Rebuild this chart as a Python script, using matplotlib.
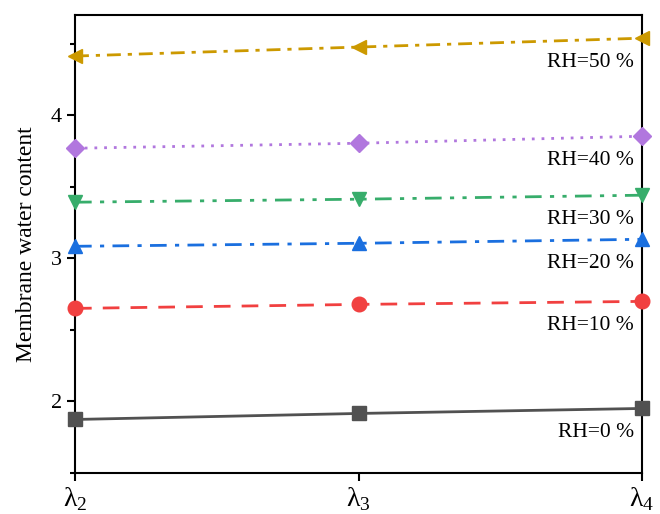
import matplotlib.pyplot as plt
from matplotlib.ticker import MultipleLocator

plt.rcParams['font.family'] = ['Liberation Serif', 'DejaVu Serif']
plt.rcParams['mathtext.fontset'] = 'custom'
plt.rcParams['mathtext.rm'] = 'Liberation Serif'

x_pos = [0, 1, 2]
x_labels = ['λ$_2$', 'λ$_3$', 'λ$_4$']

rh_labels = ['RH=0 %', 'RH=10 %', 'RH=20 %', 'RH=30 %', 'RH=40 %', 'RH=50 %']
rh0 = [1.874, 1.916, 1.951]
rh10 = [2.650, 2.678, 2.699]
rh20 = [3.084, 3.105, 3.133]
rh30 = [3.392, 3.413, 3.441]
rh40 = [3.769, 3.804, 3.853]
rh50 = [4.413, 4.476, 4.538]

series = [rh0, rh10, rh20, rh30, rh40, rh50]
colors = ['#515151', '#F14040', '#1A6FDF', '#37AD6B', '#B177DE', '#CC9900']
markers = ['s', 'o', '^', 'v', 'D', '<']
msizes = [9.5, 10.5, 10.5, 10.5, 9.5, 10.5]
styles = ['-', (0, (6, 4)), (0, (6, 3, 1.5, 3)), (0, (6, 3, 1.5, 3, 1.5, 3)),
          (0, (1, 2.5)), (0, (5, 2.5, 1.5, 2.5))]

fig = plt.figure(figsize=(6.6, 5.14), dpi=100)
ax = fig.add_axes([75 / 660, 41 / 514, 567 / 660, 458 / 514])

for vals, c, m, ms, ls, lab in zip(series, colors, markers, msizes, styles, rh_labels):
    ax.plot(x_pos, vals, color=c, marker=m, markersize=ms, linestyle=ls,
            linewidth=2, clip_on=False, zorder=3)
    ax.annotate(lab, xy=(x_pos[-1], vals[-1]), xytext=(-8, -24),
                textcoords='offset pixels', ha='right', va='center', fontsize=15.5)

ax.set_xlim(0, 2)
ax.set_ylim(1.5, 4.7)
ax.set_xticks(x_pos)
ax.set_xticklabels(x_labels)
ax.yaxis.set_major_locator(MultipleLocator(1))
ax.yaxis.set_minor_locator(MultipleLocator(0.5))
ax.tick_params(axis='both', which='major', direction='out', length=6, width=1.5, labelsize=16)
ax.tick_params(axis='x', labelsize=20, pad=3)
ax.tick_params(axis='y', which='minor', direction='out', length=3.5, width=1.5)
for s in ax.spines.values():
    s.set_linewidth(1.5)
ax.set_ylabel('Membrane water content', fontsize=17, labelpad=10)

fig.savefig('out.png', dpi=100)
